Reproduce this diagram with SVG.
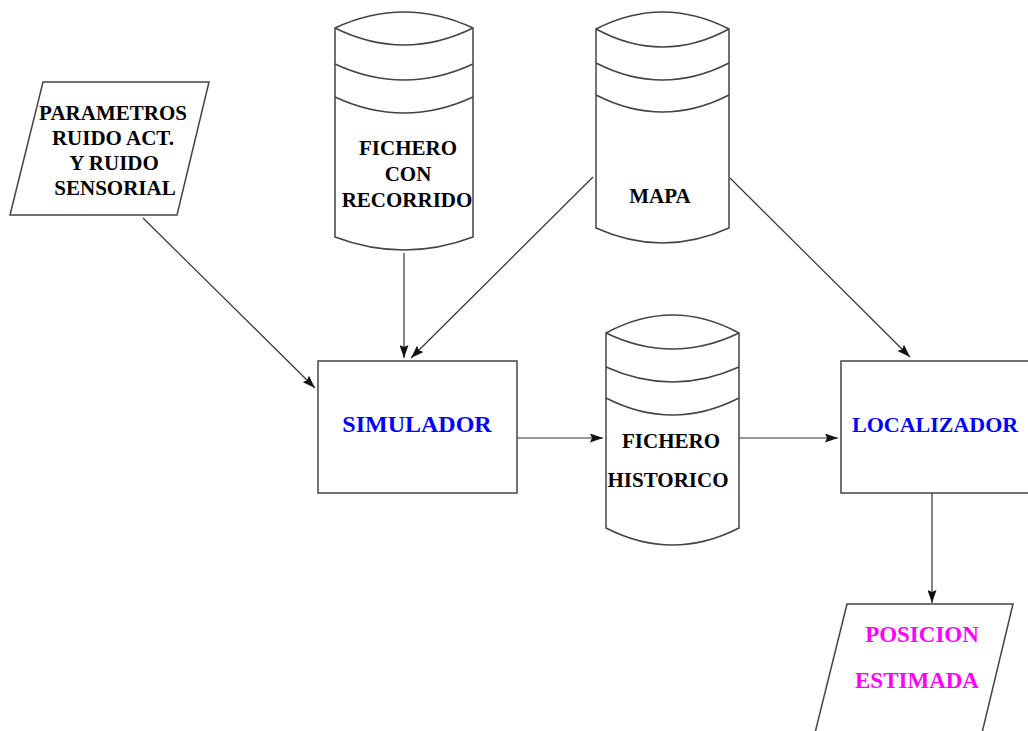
<svg xmlns="http://www.w3.org/2000/svg" width="1028" height="731" viewBox="0 0 1028 731">
  <style>
    .shape { fill: #ffffff; stroke: #444444; stroke-width: 1.5; }
    .band { fill: none; stroke: #444444; stroke-width: 1.5; }
    .conn { fill: none; stroke: #333333; stroke-width: 1.2; }
    .lbl { font-family: "Liberation Serif", "Times New Roman", serif; font-weight: bold; font-size: 21px; fill: #000000; text-anchor: middle; }
    .proc { font-size: 24px; fill: #0000ff; }
    .out { font-size: 23px; fill: #ff00ff; }
  </style>
  <defs>
    <marker id="arrow" viewBox="0 0 13 9" refX="13" refY="4.5" markerWidth="13" markerHeight="9" markerUnits="userSpaceOnUse" orient="auto">
      <path d="M0,0 L13,4.5 L0,9 L2,4.5 Z" fill="#111111"/>
    </marker>
  </defs>
  <rect width="1028" height="731" fill="#ffffff"/>

  <!-- connectors -->
  <g id="connectors">
    <line class="conn" x1="143" y1="218" x2="315" y2="388" marker-end="url(#arrow)"/>
    <line class="conn" x1="404" y1="253" x2="404" y2="358" marker-end="url(#arrow)"/>
    <line class="conn" x1="593" y1="177" x2="411" y2="358" marker-end="url(#arrow)"/>
    <line class="conn" x1="730" y1="178" x2="910" y2="357" marker-end="url(#arrow)"/>
    <line class="conn" x1="517" y1="438" x2="603" y2="438" marker-end="url(#arrow)"/>
    <line class="conn" x1="739" y1="438" x2="838" y2="438" marker-end="url(#arrow)"/>
    <line class="conn" x1="932" y1="493" x2="932" y2="603" marker-end="url(#arrow)"/>
  </g>

  <!-- input parameters -->
  <g id="parametros">
    <polygon class="shape" points="43,82 209,82 177,215 10,215"/>
    <text class="lbl" x="113" y="120">PARAMETROS</text>
    <text class="lbl" x="113" y="145">RUIDO ACT.</text>
    <text class="lbl" x="114" y="170">Y RUIDO</text>
    <text class="lbl" x="115" y="195">SENSORIAL</text>
  </g>

  <!-- route file -->
  <g id="fichero-recorrido">
    <path class="shape" d="M335,28 Q404,-4 473,28 L473,237 Q404,263 335,237 Z"/>
    <path class="band" d="M335,28 Q404,62 473,28"/>
    <path class="band" d="M335,64 Q404,96 473,64"/>
    <path class="band" d="M335,97 Q404,129 473,97"/>
    <text class="lbl" x="408" y="155">FICHERO</text>
    <text class="lbl" x="408" y="181">CON</text>
    <text class="lbl" x="407" y="207">RECORRIDO</text>
  </g>

  <!-- map -->
  <g id="mapa">
    <path class="shape" d="M596,29 Q662.5,-5 729,29 L729,228 Q662.5,258 596,228 Z"/>
    <path class="band" d="M596,29 Q662.5,65 729,29"/>
    <path class="band" d="M596,63 Q662.5,97 729,63"/>
    <path class="band" d="M596,95 Q662.5,129 729,95"/>
    <text class="lbl" x="660" y="203">MAPA</text>
  </g>

  <!-- simulator -->
  <g id="simulador">
    <rect class="shape" x="318" y="361" width="199" height="132"/>
    <text class="lbl proc" x="417" y="432">SIMULADOR</text>
  </g>

  <!-- history file -->
  <g id="fichero-historico">
    <path class="shape" d="M606,333 Q672.5,297 739,333 L739,528 Q672.5,562 606,528 Z"/>
    <path class="band" d="M606,333 Q672.5,365 739,333"/>
    <path class="band" d="M606,367 Q672.5,397 739,367"/>
    <path class="band" d="M606,398 Q672.5,432 739,398"/>
    <text class="lbl" x="671" y="448">FICHERO</text>
    <text class="lbl" x="668" y="487">HISTORICO</text>
  </g>

  <!-- localizer -->
  <g id="localizador">
    <rect class="shape" x="841" y="361" width="205" height="132"/>
    <text class="lbl proc" x="852" y="432" style="text-anchor: start; font-size: 22px">LOCALIZADOR</text>
  </g>

  <!-- estimated position -->
  <g id="posicion">
    <polygon class="shape" points="847,604 1013,604 981,737 814,737"/>
    <text class="lbl out" x="922" y="642">POSICION</text>
    <text class="lbl out" x="917" y="688">ESTIMADA</text>
  </g>
</svg>
